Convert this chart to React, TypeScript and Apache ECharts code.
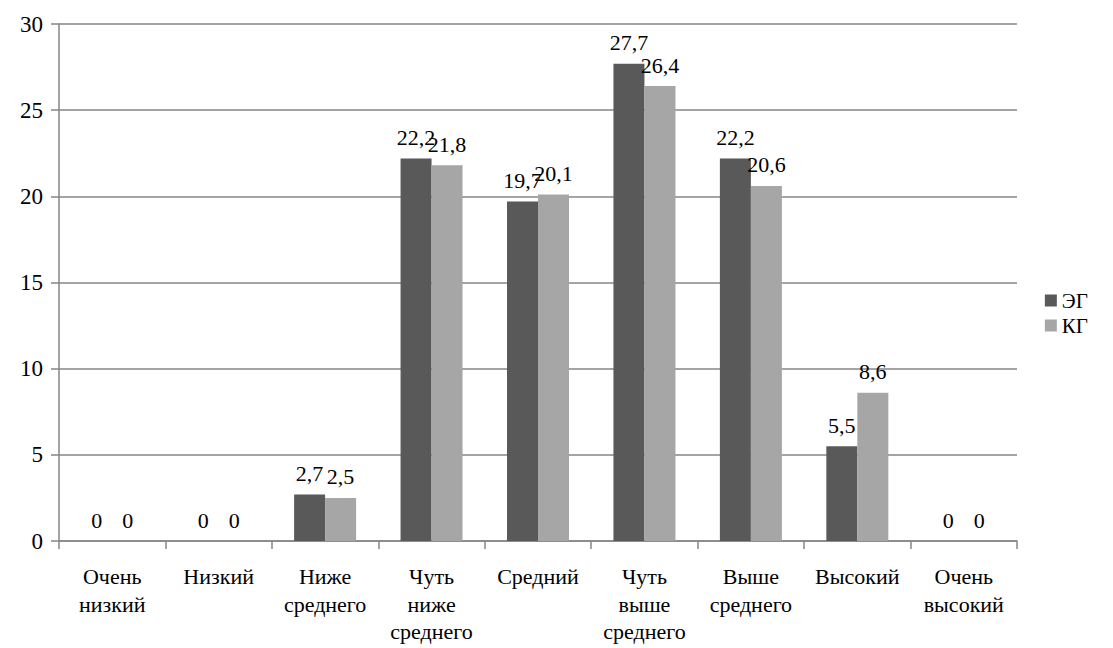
import React, { useEffect, useRef } from "react";
import * as echarts from "echarts";

const categories = [
  "Очень\nнизкий",
  "Низкий",
  "Ниже\nсреднего",
  "Чуть\nниже\nсреднего",
  "Средний",
  "Чуть\nвыше\nсреднего",
  "Выше\nсреднего",
  "Высокий",
  "Очень\nвысокий",
];
const egValues = [0, 0, 2.7, 22.2, 19.7, 27.7, 22.2, 5.5, 0];
const kgValues = [0, 0, 2.5, 21.8, 20.1, 26.4, 20.6, 8.6, 0];
const seriesNames = ["ЭГ", "КГ"];
const seriesColors = ["#595959", "#a6a6a6"];

const FONT = "Liberation Serif";

export default function App() {
  const ref = useRef<HTMLDivElement>(null);
  useEffect(() => {
    document.body.style.margin = "0";
    if (!ref.current) return;
    const chart = echarts.init(ref.current, undefined, { renderer: "svg" });
    const seriesData = [egValues, kgValues];
    const labelCfg = {
      show: true,
      position: "top" as const,
      distance: 10,
      fontFamily: FONT,
      fontStyle: "normal" as const,
      fontWeight: "normal" as const,
      fontSize: 22,
      color: "#000",
      formatter: (p: any) => String(p.value).replace(".", ","),
    };
    chart.setOption({
      animation: false,
      textStyle: { fontFamily: FONT, fontWeight: "normal" },
      grid: { left: 59, right: 96, top: 24, bottom: 107, containLabel: false },
      legend: {
        orient: "vertical",
        right: 20,
        top: 285,
        icon: "rect",
        itemWidth: 12,
        itemHeight: 12,
        itemGap: 4,
        textStyle: { fontFamily: FONT, fontSize: 21, color: "#000" },
        data: seriesNames,
      },
      xAxis: {
        type: "category",
        data: categories,
        axisLine: { lineStyle: { color: "#868686", width: 1.5 } },
        axisTick: { show: true, length: 8, lineStyle: { color: "#868686", width: 1.5 } },
        axisLabel: {
          interval: 0,
          margin: 22,
          fontFamily: FONT,
          fontSize: 22,
          lineHeight: 27.5,
          color: "#000",
          align: "center",
        },
      },
      yAxis: {
        type: "value",
        min: 0,
        max: 30,
        interval: 5,
        axisLine: { show: true, lineStyle: { color: "#868686", width: 1.5 } },
        axisTick: { show: true, length: 8, lineStyle: { color: "#868686", width: 1.5 } },
        splitLine: { lineStyle: { color: "#868686", width: 1.5 } },
        axisLabel: {
          margin: 16,
          fontFamily: FONT,
          fontSize: 23,
          color: "#000",
        },
      },
      series: seriesNames.map((name, si) => ({
        name,
        type: "bar",
        data: seriesData[si],
        barWidth: 31,
        barGap: "0%",
        itemStyle: { color: seriesColors[si] },
        label: labelCfg,
        labelLayout: { moveOverlap: "shiftX" },
      })),
    });
    return () => chart.dispose();
  }, []);
  return <div ref={ref} style={{ width: 1113, height: 648 }} />;
}
